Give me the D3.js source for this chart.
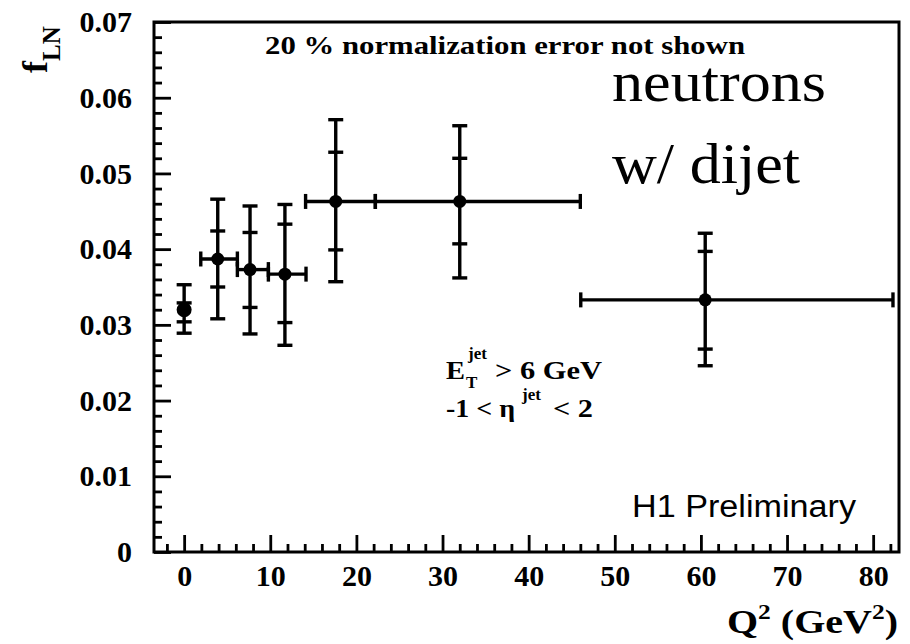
<!DOCTYPE html>
<html>
<head>
<meta charset="utf-8">
<script src="https://cdn.jsdelivr.net/npm/d3@7"></script>
<style>
  body { margin: 0; background: #fff; }
  svg text { fill: #000; }
</style>
</head>
<body>
<svg id="grafica" width="910" height="644"></svg>
<script>
// f_LN vs Q^2, neutrons con dijet (H1 preliminar)

const svg_w = 910;
const svg_h = 644;
// el marco de la grafica
const frame = {l:154, r:899, t:22, b:552};

// datos
const q2      = [0, 3.9, 7.65, 11.7, 17.6, 32.0, 60.5];
const q2_lo   = [0, 1.93, 6.18, 9.78, 14.1, 22.2, 46.05];
const q2_hi   = [0, 6.18, 9.78, 14.15, 22.2, 46.0, 82.3];
const f_ln    = [0.0320, 0.0387, 0.0373, 0.0367, 0.0463, 0.0463, 0.0333];
const tot_hi  = [0.0353, 0.0466, 0.0457, 0.0459, 0.0571, 0.0563, 0.0421];
const stat_hi = [0.0329, 0.0424, 0.0422, 0.0433, 0.0528, 0.0520, 0.0397];
const stat_lo = [0.0304, 0.0350, 0.0323, 0.0303, 0.0399, 0.0407, 0.0268];
const tot_lo  = [0.0289, 0.0308, 0.0288, 0.0273, 0.0357, 0.0362, 0.0246];

const x_major = [0, 10, 20, 30, 40, 50, 60, 70, 80];
const x_minor = [-2, 2, 4, 6, 8, 12, 14, 16, 18, 22, 24, 26, 28, 32, 34, 36, 38,
  42, 44, 46, 48, 52, 54, 56, 58, 62, 64, 66, 68, 72, 74, 76, 78, 82];
const y_major = [0, 0.01, 0.02, 0.03, 0.04, 0.05, 0.06, 0.07];
const y_minor = d3.range(0, 36).map(i => i * 0.002).filter(v => Math.abs(v * 100 - Math.round(v * 100)) > 1e-9);

const data = q2.map((d, i) => ({
  x: d, xlo: q2_lo[i], xhi: q2_hi[i], y: f_ln[i],
  thi: tot_hi[i], shi: stat_hi[i], slo: stat_lo[i], tlo: tot_lo[i]
}));

const serif = "'Liberation Serif', 'Times New Roman', serif";
const sans = "'Liberation Sans', Arial, sans-serif";

let svg = d3.select("#grafica");

let x_scale = d3.scaleLinear().domain([-3.5, 83]).range([frame.l, frame.r]);
let y_scale = d3.scaleLinear().domain([0, 0.07]).range([frame.b, frame.t]);

// ejes: ticks hacia adentro
svg.append("g")
  .attr("transform", `translate(0,${frame.b})`)
  .call(d3.axisBottom(x_scale).tickValues(x_minor).tickSizeInner(-8).tickSizeOuter(0).tickFormat(""))
  .call(g => g.select(".domain").remove());

svg.append("g")
  .attr("transform", `translate(0,${frame.b})`)
  .call(d3.axisBottom(x_scale).tickValues(x_major).tickSizeInner(-17).tickSizeOuter(0).tickPadding(13).tickFormat(d3.format("d")))
  .call(g => g.select(".domain").remove())
  .selectAll("text")
  .attr("font-family", serif).attr("font-weight", "bold").attr("font-size", 30);

svg.append("g")
  .attr("transform", `translate(${frame.l},0)`)
  .call(d3.axisLeft(y_scale).tickValues(y_minor).tickSizeInner(-8).tickSizeOuter(0).tickFormat(""))
  .call(g => g.select(".domain").remove());

svg.append("g")
  .attr("transform", `translate(${frame.l},0)`)
  .call(d3.axisLeft(y_scale).tickValues(y_major).tickSizeInner(-17).tickSizeOuter(0).tickPadding(22)
    .tickFormat(d => d === 0 ? "0" : d3.format(".2f")(d)))
  .call(g => g.select(".domain").remove())
  .selectAll("text")
  .attr("font-family", serif).attr("font-weight", "bold").attr("font-size", 30);

svg.selectAll(".tick line").attr("stroke", "#000").attr("stroke-width", 2.8);

// marco
svg.append("rect")
  .attr("x", frame.l).attr("y", frame.t)
  .attr("width", frame.r - frame.l).attr("height", frame.b - frame.t)
  .attr("fill", "none").attr("stroke", "#000").attr("stroke-width", 3);

// barras de error
const cap = 7.5;
let pts = svg.append("g").attr("stroke", "#000").attr("stroke-width", 3.4);

pts.selectAll(".vbar").data(data).enter().append("line")
  .attr("x1", d => x_scale(d.x)).attr("x2", d => x_scale(d.x))
  .attr("y1", d => y_scale(d.thi)).attr("y2", d => y_scale(d.tlo));

pts.selectAll(".hbar").data(data.filter(d => d.xhi > d.xlo)).enter().append("line")
  .attr("x1", d => x_scale(d.xlo)).attr("x2", d => x_scale(d.xhi))
  .attr("y1", d => y_scale(d.y)).attr("y2", d => y_scale(d.y));

["thi", "shi", "slo", "tlo"].forEach(k => {
  pts.selectAll(".cap_" + k).data(data).enter().append("line")
    .attr("x1", d => x_scale(d.x) - cap).attr("x2", d => x_scale(d.x) + cap)
    .attr("y1", d => y_scale(d[k])).attr("y2", d => y_scale(d[k]));
});

["xlo", "xhi"].forEach(k => {
  pts.selectAll(".cap_" + k).data(data.filter(d => d.xhi > d.xlo)).enter().append("line")
    .attr("x1", d => x_scale(d[k])).attr("x2", d => x_scale(d[k]))
    .attr("y1", d => y_scale(d.y) - cap).attr("y2", d => y_scale(d.y) + cap);
});

svg.append("g").selectAll("circle").data(data).enter().append("circle")
  .attr("cx", d => x_scale(d.x)).attr("cy", d => y_scale(d.y))
  .attr("r", (d, i) => i === 0 ? 7.5 : 6.5)
  .attr("fill", "#000");

// titulos de ejes
let ytitle = svg.append("text")
  .attr("transform", "translate(47,73) rotate(-90)")
  .attr("font-family", serif).attr("font-weight", "bold");
ytitle.append("tspan").attr("font-size", 36).text("f");
ytitle.append("tspan").attr("font-size", 25).attr("dy", 13).text("LN");

let xtitle = svg.append("text")
  .attr("x", 727).attr("y", 633)
  .attr("textLength", 171).attr("lengthAdjust", "spacingAndGlyphs")
  .attr("font-family", serif).attr("font-weight", "bold").attr("font-size", 33);
xtitle.append("tspan").text("Q");
xtitle.append("tspan").attr("font-size", 21).attr("dy", -14).text("2");
xtitle.append("tspan").attr("dy", 14).text(" (GeV");
xtitle.append("tspan").attr("font-size", 21).attr("dy", -14).text("2");
xtitle.append("tspan").attr("dy", 14).text(")");

// anotaciones
svg.append("text")
  .attr("x", 265).attr("y", 54)
  .attr("textLength", 480).attr("lengthAdjust", "spacingAndGlyphs")
  .attr("font-family", serif).attr("font-weight", "bold").attr("font-size", 25)
  .text("20 % normalization error not shown");

svg.append("text")
  .attr("x", 612).attr("y", 101)
  .attr("textLength", 214).attr("lengthAdjust", "spacingAndGlyphs")
  .attr("font-family", serif).attr("font-size", 56)
  .text("neutrons");

svg.append("text")
  .attr("x", 612).attr("y", 183)
  .attr("textLength", 188).attr("lengthAdjust", "spacingAndGlyphs")
  .attr("font-family", serif).attr("font-size", 56)
  .text("w/ dijet");

svg.append("text")
  .attr("x", 632).attr("y", 517)
  .attr("textLength", 224).attr("lengthAdjust", "spacingAndGlyphs")
  .attr("font-family", sans).attr("font-size", 31)
  .text("H1 Preliminary");

let cuts = svg.append("g")
  .attr("font-family", serif).attr("font-weight", "bold").attr("font-size", 25);
cuts.append("text").attr("x", 446).attr("y", 379)
  .attr("textLength", 19).attr("lengthAdjust", "spacingAndGlyphs").text("E");
cuts.append("text").attr("x", 466).attr("y", 388).attr("font-size", 17).text("T");
cuts.append("text").attr("x", 468).attr("y", 359).attr("font-size", 17).text("jet");
cuts.append("text").attr("x", 495).attr("y", 379)
  .attr("textLength", 107).attr("lengthAdjust", "spacingAndGlyphs").text("> 6 GeV");
cuts.append("text").attr("x", 446).attr("y", 417)
  .attr("textLength", 69).attr("lengthAdjust", "spacingAndGlyphs").text("-1 < η");
cuts.append("text").attr("x", 522).attr("y", 400).attr("font-size", 17).text("jet");
cuts.append("text").attr("x", 553).attr("y", 417)
  .attr("textLength", 40).attr("lengthAdjust", "spacingAndGlyphs").text("< 2");
</script>
</body>
</html>
